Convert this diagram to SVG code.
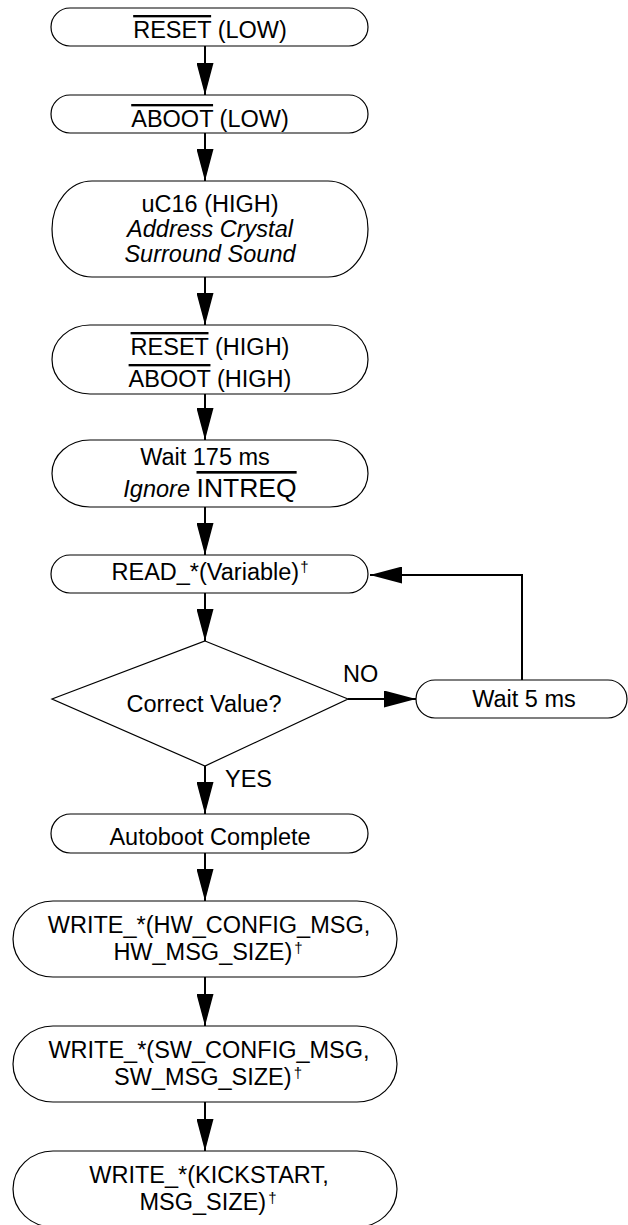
<svg xmlns="http://www.w3.org/2000/svg" width="628" height="1225" viewBox="0 0 628 1225">
<style>
.n{fill:#fff;stroke:#000;stroke-width:1.2}
.t{font-family:"Liberation Sans",Arial,sans-serif;font-size:23.5px;fill:#000}
.c{text-anchor:middle}
.i{font-style:italic}
.ov{text-decoration:overline}
.sup{font-size:15px}
.e{fill:none;stroke:#000;stroke-width:2}
</style>
<defs>
<marker id="ah" markerUnits="userSpaceOnUse" markerWidth="32" markerHeight="17" refX="32" refY="8.5" orient="auto">
<path d="M0,0 L32,8.5 L0,17 z" fill="#000"/>
</marker>
</defs>
<rect width="628" height="1225" fill="#fff"/>
<g id="connectors">
<line class="e" x1="205" y1="46" x2="205" y2="95" marker-end="url(#ah)"/>
<line class="e" x1="205" y1="133" x2="205" y2="181" marker-end="url(#ah)"/>
<line class="e" x1="205" y1="277" x2="205" y2="325" marker-end="url(#ah)"/>
<line class="e" x1="205" y1="394" x2="205" y2="440" marker-end="url(#ah)"/>
<line class="e" x1="205" y1="507" x2="205" y2="555" marker-end="url(#ah)"/>
<line class="e" x1="205" y1="593" x2="205" y2="641" marker-end="url(#ah)"/>
<line class="e" x1="205" y1="766" x2="205" y2="814" marker-end="url(#ah)"/>
<line class="e" x1="205" y1="853" x2="205" y2="901" marker-end="url(#ah)"/>
<line class="e" x1="205" y1="977" x2="205" y2="1026" marker-end="url(#ah)"/>
<line class="e" x1="205" y1="1102" x2="205" y2="1151" marker-end="url(#ah)"/>
<line class="e" x1="348" y1="699" x2="416" y2="699" marker-end="url(#ah)"/>
<polyline class="e" points="522,680 522,575 370,575" marker-end="url(#ah)"/>
<text class="t" x="343" y="682">NO</text>
<text class="t" x="225" y="787">YES</text>
</g>
<g id="n1">
<rect class="n" x="51" y="8" width="317" height="38" rx="19" ry="19"/>
<text class="t c" x="210" y="38"><tspan class="ov">RESET</tspan> (LOW)</text>
</g>
<g id="n2">
<rect class="n" x="51" y="95" width="317" height="38" rx="19" ry="19"/>
<text class="t c" x="210" y="127"><tspan class="ov">ABOOT</tspan> (LOW)</text>
</g>
<g id="n3">
<rect class="n" x="52" y="181" width="316" height="96" rx="40" ry="48"/>
<text class="t c" x="210" y="212">uC16 (HIGH)</text>
<text class="t c i" x="210" y="237">Address Crystal</text>
<text class="t c i" x="210" y="262">Surround Sound</text>
</g>
<g id="n4">
<rect class="n" x="52" y="325" width="316" height="69" rx="38" ry="34.5"/>
<text class="t c" x="210" y="355"><tspan class="ov">RESET</tspan> (HIGH)</text>
<text class="t c" x="210" y="387"><tspan class="ov">ABOOT</tspan> (HIGH)</text>
</g>
<g id="n5">
<rect class="n" x="52" y="440" width="316" height="67" rx="38" ry="33.5"/>
<text class="t c" x="205" y="465">Wait 175 ms</text>
<text class="t c" x="210" y="497"><tspan class="i">Ignore</tspan> <tspan class="ov" style="font-size:26.5px">INTREQ</tspan></text>
</g>
<g id="n6">
<rect class="n" x="51" y="555" width="317" height="38" rx="19" ry="19"/>
<text class="t c" x="210" y="580">READ_*(Variable)<tspan class="sup" dx="1" dy="-8">†</tspan></text>
</g>
<g id="n7">
<polygon class="n" points="205,641 348,699 205,766 52,699"/>
<text class="t c" x="204" y="712">Correct Value?</text>
</g>
<g id="n8">
<rect class="n" x="416" y="680" width="211" height="38" rx="19" ry="19"/>
<text class="t c" x="524" y="707">Wait 5 ms</text>
</g>
<g id="n9">
<rect class="n" x="51" y="814" width="317" height="39" rx="19.5" ry="19.5"/>
<text class="t c" x="210" y="845">Autoboot Complete</text>
</g>
<g id="n10">
<rect class="n" x="13" y="901" width="384" height="76" rx="40" ry="38"/>
<text class="t c" x="209" y="933">WRITE_*(HW_CONFIG_MSG,</text>
<text class="t c" x="208" y="960">HW_MSG_SIZE)<tspan class="sup" dx="2" dy="-7">†</tspan></text>
</g>
<g id="n11">
<rect class="n" x="13" y="1026" width="384" height="76" rx="40" ry="38"/>
<text class="t c" x="209" y="1058">WRITE_*(SW_CONFIG_MSG,</text>
<text class="t c" x="208" y="1085">SW_MSG_SIZE)<tspan class="sup" dx="2" dy="-7">†</tspan></text>
</g>
<g id="n12">
<rect class="n" x="13" y="1151" width="384" height="76" rx="40" ry="38"/>
<text class="t c" x="209" y="1183">WRITE_*(KICKSTART,</text>
<text class="t c" x="208" y="1210">MSG_SIZE)<tspan class="sup" dx="2" dy="-7">†</tspan></text>
</g>
</svg>
